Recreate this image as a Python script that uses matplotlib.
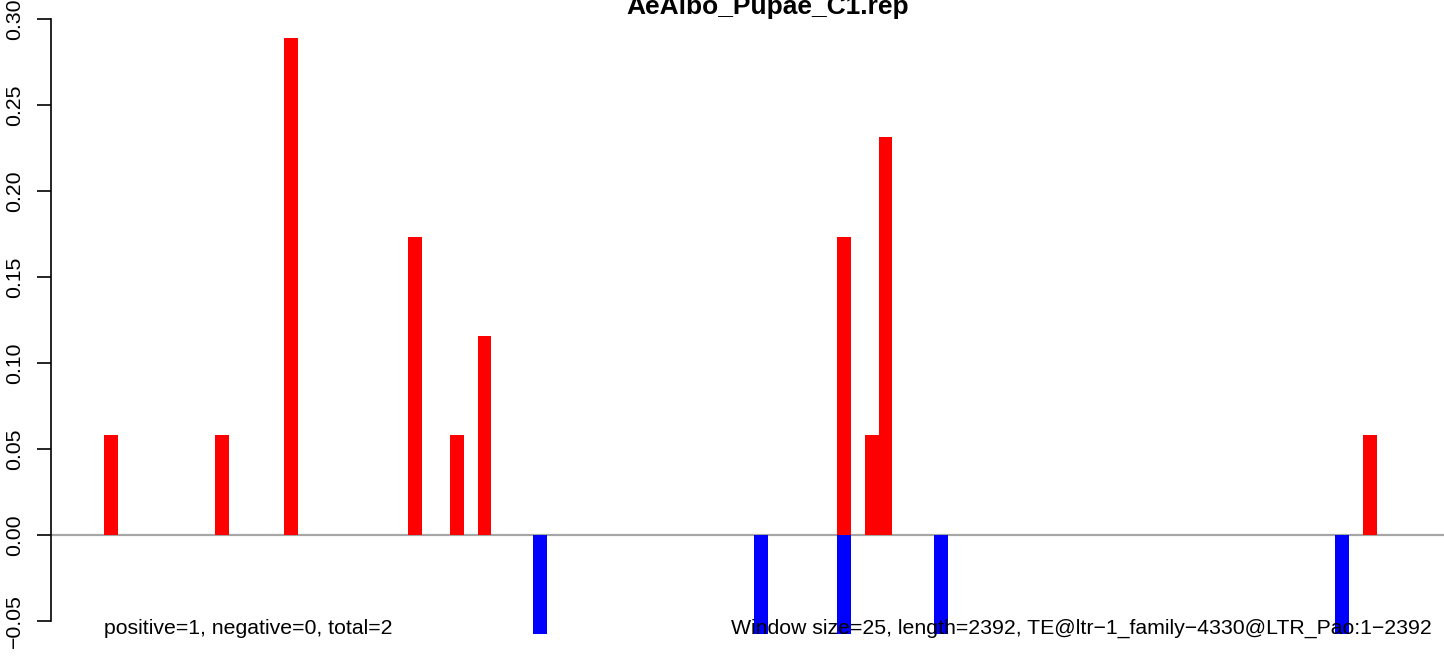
import numpy as np
import matplotlib
matplotlib.use("Agg")
import matplotlib.pyplot as plt

plt.rcParams['font.family'] = ['Liberation Sans', 'DejaVu Sans']

# windows of 25 bp along a 2392 bp TE
n_windows = 96
pos_windows = [0, 8, 13, 22, 25, 27, 53, 55, 56, 91]
pos_values = [0.0578, 0.0578, 0.289, 0.1734, 0.0578, 0.1156, 0.1734, 0.0578, 0.2312, 0.0578]
neg_windows = [31, 47, 53, 60, 89]
neg_values = [-0.0578, -0.0578, -0.0578, -0.0578, -0.0578]
yticks = [-0.05, 0.00, 0.05, 0.10, 0.15, 0.20, 0.25, 0.30]
title = "AeAlbo_Pupae_C1.rep"
left_note = "positive=1, negative=0, total=2"
right_note = "Window size=25, length=2392, TE@ltr\u22121_family\u22124330@LTR_Pao:1\u22122392"

W, H = 1444, 656
fig = plt.figure(figsize=(W / 100, H / 100), dpi=100)
# plot region as R draws it (runs a bit past the right/bottom edge)
ax = fig.add_axes([51 / W, (H - 658) / H, 1434 / W, 644 / H])

ymin = min(neg_values)
ymax = max(pos_values)
yr = ymax - ymin
ax.set_xlim(-0.04 * n_windows, n_windows * 1.04)
ax.set_ylim(ymin - 0.04 * yr, ymax + 0.04 * yr)

ax.axhline(0, color="#a6a6a6", linewidth=1.6, zorder=1)
ax.bar(pos_windows, pos_values, width=1, align="edge", color="#ff0000", linewidth=0, zorder=2)
ax.bar(neg_windows, neg_values, width=1, align="edge", color="#0000ff", linewidth=0, zorder=2)

for s in ["top", "right", "bottom"]:
    ax.spines[s].set_visible(False)
ax.spines["left"].set_bounds(yticks[0], yticks[-1])
ax.spines["left"].set_linewidth(1.2)
ax.set_xticks([])
ax.set_yticks(yticks)
ax.set_yticklabels(["%.2f" % v if v >= 0 else "\u2212%.2f" % abs(v) for v in yticks],
                   rotation=90, va="center", fontsize=15.3)
ax.tick_params(axis="y", length=10, width=1.2, pad=9.5)

ax.text(0, ymin, left_note, ha="left", va="baseline", fontsize=15.3)
ax.text(n_windows, ymin, right_note, ha="right", va="baseline", fontsize=15.3)
fig.text(768 / W, 1 - 14 / H, title, ha="center", va="baseline", fontsize=19, fontweight="bold")

fig.savefig("out.png", dpi=100)
